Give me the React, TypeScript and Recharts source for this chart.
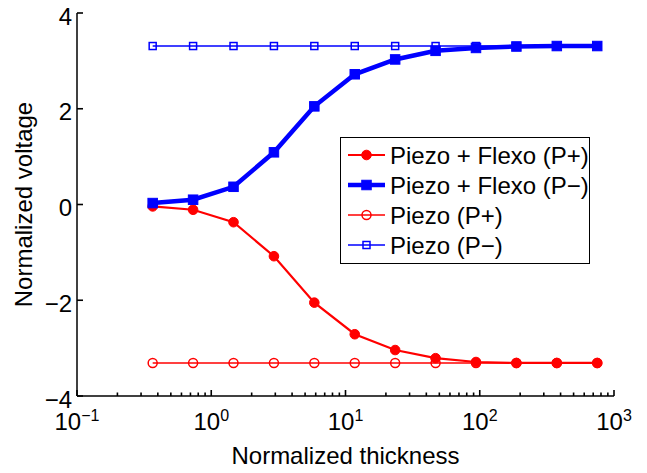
import React from 'react';
import { LineChart, Line, XAxis, YAxis, Legend } from 'recharts';

// normalized thickness (doubling steps)
const thickness = [0.3662, 0.7324, 1.465, 2.93, 5.859, 11.72, 23.44, 46.88, 93.75, 187.5, 375, 750];
const flexoPlus = [-0.04, -0.11, -0.37, -1.08, -2.05, -2.71, -3.04, -3.21, -3.29, -3.31, -3.31, -3.31];
const flexoMinus = [0.03, 0.1, 0.37, 1.09, 2.05, 2.72, 3.03, 3.21, 3.27, 3.3, 3.31, 3.31];
const piezoPlus = [-3.31, -3.31, -3.31, -3.31, -3.31, -3.31, -3.31, -3.31, -3.31, -3.31, -3.31, -3.31];
const piezoMinus = [3.31, 3.31, 3.31, 3.31, 3.31, 3.31, 3.31, 3.31, 3.31, 3.31, 3.31, 3.31];

const majorX = [0.1, 1, 10, 100, 1000];
const majorXExp = ['\u22121', '0', '1', '2', '3'];
const minorX = [
  0.2, 0.3, 0.4, 0.5, 0.6, 0.7, 0.8, 0.9,
  2, 3, 4, 5, 6, 7, 8, 9,
  20, 30, 40, 50, 60, 70, 80, 90,
  200, 300, 400, 500, 600, 700, 800, 900,
];
const yTicks = [-4, -2, 0, 2, 4];
const yTickLabels = ['\u22124', '\u22122', '0', '2', '4'];

const FONT = '"Liberation Sans", Arial, Helvetica, sans-serif';
const RED = '#ff0000';
const BLUE = '#0000ff';

const series = [
  { key: 'flexoPlus', name: 'Piezo + Flexo (P+)', color: RED, width: 2.2, marker: 'circle', filled: true },
  { key: 'flexoMinus', name: 'Piezo + Flexo (P\u2212)', color: BLUE, width: 4.5, marker: 'square', filled: true },
  { key: 'piezoPlus', name: 'Piezo (P+)', color: RED, width: 1.5, marker: 'circle', filled: false },
  { key: 'piezoMinus', name: 'Piezo (P\u2212)', color: BLUE, width: 1.5, marker: 'square', filled: false },
];

const data = thickness.map((t, i) => ({
  t,
  flexoPlus: flexoPlus[i],
  flexoMinus: flexoMinus[i],
  piezoPlus: piezoPlus[i],
  piezoMinus: piezoMinus[i],
}));

const Marker = ({ cx, cy, s }: any) => {
  if (cx == null || cy == null) return null;
  if (s.marker === 'circle') {
    const r = s.filled ? 4.8 : 4.5;
    return (
      <circle cx={cx} cy={cy} r={r} fill={s.filled ? s.color : 'none'} stroke={s.color} strokeWidth={s.filled ? 1 : 1.5} />
    );
  }
  const size = s.filled ? 9.5 : 7;
  return (
    <rect x={cx - size / 2} y={cy - size / 2} width={size} height={size}
      fill={s.filled ? s.color : 'none'} stroke={s.color} strokeWidth={s.filled ? 1 : 1.5} />
  );
};

// inward ticks, MATLAB style; labels only on the bottom axis
const XTick = (props: any) => {
  const { x, y, payload, dir } = props;
  const idx = majorX.indexOf(payload.value);
  const len = idx >= 0 ? 6 : 3.5;
  return (
    <g>
      <path d={`M${x},${y}L${x},${y + dir * len}`} stroke="#000" strokeWidth={1.6} fill="none" />
      {dir < 0 && idx >= 0 && (
        <text x={x} y={y + 34} textAnchor="middle" fontFamily={FONT} fontSize={24} fill="#000" stroke="none">
          <tspan>10</tspan>
          <tspan dy={-9} fontSize={16}>{majorXExp[idx]}</tspan>
        </text>
      )}
    </g>
  );
};

const YTick = (props: any) => {
  const { x, y, payload, dir } = props;
  const idx = yTicks.indexOf(payload.value);
  return (
    <g>
      <path d={`M${x},${y}L${x + dir * 6},${y}`} stroke="#000" strokeWidth={1.6} fill="none" />
      {dir > 0 && (
        <text x={x - 5} y={y + 11.5} textAnchor="end" fontFamily={FONT} fontSize={24} fill="#000" stroke="none">
          {yTickLabels[idx]}
        </text>
      )}
    </g>
  );
};

const YTitle = ({ viewBox }: any) => {
  const cx = (viewBox?.x ?? 0) + 32;
  const cy = (viewBox?.y ?? 13) + (viewBox?.height ?? 383) / 2;
  return (
    <text x={cx} y={cy} transform={`rotate(-90, ${cx}, ${cy})`} textAnchor="middle"
      fontFamily={FONT} fontSize={24} fill="#000">
      Normalized voltage
    </text>
  );
};

const XTitle = ({ viewBox }: any) => {
  const cx = (viewBox?.x ?? 77) + (viewBox?.width ?? 537) / 2;
  const y = (viewBox?.y ?? 396) + 68;
  return (
    <text x={cx} y={y} textAnchor="middle" fontFamily={FONT} fontSize={24} fill="#000">
      Normalized thickness
    </text>
  );
};

const LegendBox = () => (
  <svg width={250} height={127} style={{ display: 'block' }}>
    <rect x={0.5} y={0.5} width={249} height={126} fill="#fff" stroke="#000" strokeWidth={1} />
    {series.map((s, i) => {
      const cy = 18 + i * 30;
      return (
        <g key={s.key}>
          <line x1={8} x2={45} y1={cy} y2={cy} stroke={s.color} strokeWidth={s.width} />
          <Marker cx={26.5} cy={cy} s={s} />
          <text x={50} y={cy + 8.5} fontFamily={FONT} fontSize={24} fill="#000">{s.name}</text>
        </g>
      );
    })}
  </svg>
);

export default function App() {
  return (
    <div style={{ position: 'absolute', left: 0, top: 0, width: 647, height: 473, background: '#fff', fontFamily: FONT }}>
      <LineChart width={647} height={473} data={data} margin={{ top: 13, right: 33, left: 0, bottom: 0 }}>
        <XAxis
          xAxisId="bottom"
          dataKey="t"
          type="number"
          scale="log"
          domain={[0.1, 1000]}
          allowDataOverflow
          ticks={[...majorX, ...minorX]}
          interval={0}
          height={77}
          tickSize={0}
          tickMargin={0}
          tickLine={false}
          axisLine={{ stroke: '#000', strokeWidth: 1.5 }}
          tick={<XTick dir={-1} />}
          label={<XTitle />}
        />
        <XAxis
          xAxisId="top"
          orientation="top"
          dataKey="t"
          type="number"
          scale="log"
          domain={[0.1, 1000]}
          allowDataOverflow
          ticks={[...majorX, ...minorX]}
          interval={0}
          height={0}
          tickSize={0}
          tickMargin={0}
          tickLine={false}
          axisLine={{ stroke: '#000', strokeWidth: 1.5 }}
          tick={<XTick dir={1} />}
        />
        <YAxis
          yAxisId="left"
          type="number"
          domain={[-4, 4]}
          allowDataOverflow
          ticks={yTicks}
          interval={0}
          width={77}
          tickSize={0}
          tickMargin={0}
          tickLine={false}
          axisLine={{ stroke: '#000', strokeWidth: 1.5 }}
          tick={<YTick dir={1} />}
          label={<YTitle />}
        />
        <YAxis
          yAxisId="right"
          orientation="right"
          type="number"
          domain={[-4, 4]}
          allowDataOverflow
          ticks={yTicks}
          interval={0}
          width={0}
          tickSize={0}
          tickMargin={0}
          tickLine={false}
          axisLine={{ stroke: '#000', strokeWidth: 1.5 }}
          tick={<YTick dir={-1} />}
        />
        {series.map((s) => (
          <Line
            key={s.key}
            xAxisId="bottom"
            yAxisId="left"
            dataKey={s.key}
            name={s.name}
            type="linear"
            stroke={s.color}
            strokeWidth={s.width}
            dot={(p: any) => <Marker key={`${s.key}-${p.index}`} cx={p.cx} cy={p.cy} s={s} />}
            activeDot={false}
            isAnimationActive={false}
          />
        ))}
        <Legend
          layout="vertical"
          align="center"
          verticalAlign="middle"
          content={<LegendBox />}
          wrapperStyle={{ position: 'absolute', left: 340, top: 137, width: 250, height: 127 }}
        />
      </LineChart>
    </div>
  );
}
